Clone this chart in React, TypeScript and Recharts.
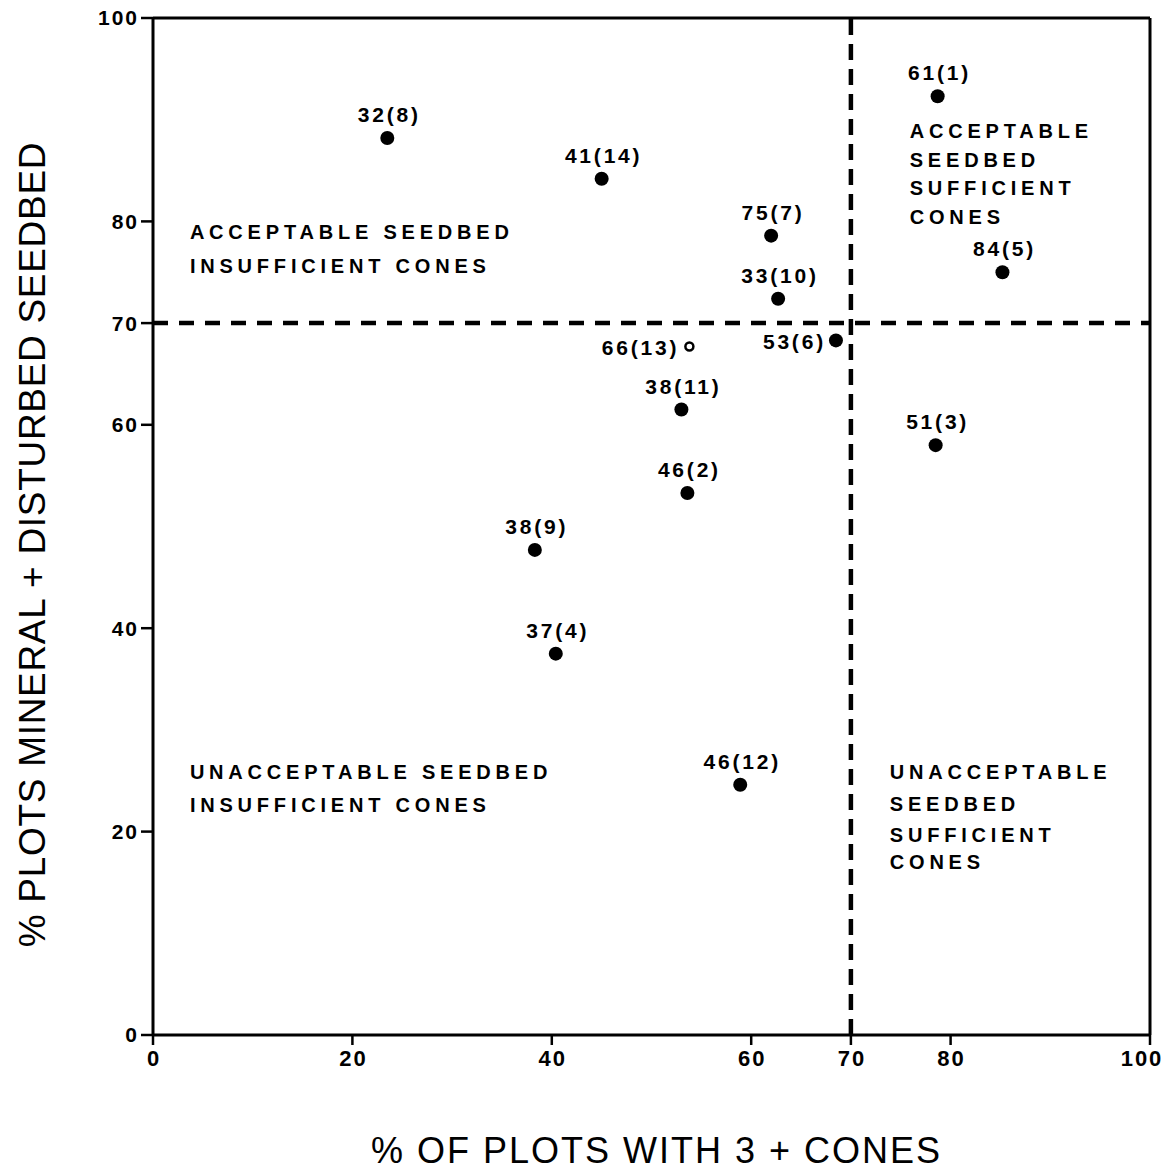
import React from "react";
import {
  ScatterChart,
  Scatter,
  XAxis,
  YAxis,
  ReferenceLine,
  ReferenceDot,
} from "recharts";

// stand labels, % plots with 3+ cones, % plots mineral + disturbed seedbed
const STANDS = [
  "32(8)", "41(14)", "75(7)", "33(10)", "61(1)", "84(5)", "66(13)",
  "53(6)", "38(11)", "51(3)", "46(2)", "38(9)", "37(4)", "46(12)",
];
const CONES = [23.5, 45.0, 62.0, 62.7, 78.7, 85.2, 53.8, 68.5, 53.0, 78.5, 53.6, 38.3, 40.4, 58.9];
const SEEDBED = [88.2, 84.2, 78.6, 72.4, 92.3, 75.0, 67.7, 68.3, 61.5, 58.0, 53.3, 47.7, 37.5, 24.6];

const X_TICKS = [0, 20, 40, 60, 70, 80, 100];
const Y_TICKS = [0, 20, 40, 60, 70, 80, 100];
const THRESHOLD_CONES = 70;
const THRESHOLD_SEEDBED = 70;

const OPEN_POINTS = ["66(13)"];
const LEFT_LABELS = ["66(13)", "53(6)"];

// quadrant notes, one entry per text line (start x, baseline y in data units)
const NOTE_TEXT = [
  "ACCEPTABLE SEEDBED", "INSUFFICIENT CONES",
  "ACCEPTABLE", "SEEDBED", "SUFFICIENT", "CONES",
  "UNACCEPTABLE SEEDBED", "INSUFFICIENT CONES",
  "UNACCEPTABLE", "SEEDBED", "SUFFICIENT", "CONES",
];
const NOTE_X = [3.7, 3.7, 75.9, 75.9, 75.9, 75.9, 3.7, 3.7, 73.9, 73.9, 73.9, 73.9];
const NOTE_Y = [78.3, 74.9, 88.2, 85.3, 82.6, 79.7, 25.2, 21.9, 25.2, 22.0, 19.0, 16.3];

const FONT = '"Liberation Sans", Arial, Helvetica, sans-serif';

const data = STANDS.map((name, i) => ({ name, x: CONES[i], y: SEEDBED[i] }));

function PointMark(props: any) {
  const { cx, cy, payload } = props;
  if (cx == null || cy == null || !payload) return <g />;
  const open = OPEN_POINTS.includes(payload.name);
  const left = LEFT_LABELS.includes(payload.name);
  return (
    <g>
      {open ? (
        <circle cx={cx} cy={cy} r={4} fill="#fff" stroke="#000" strokeWidth={2.5} />
      ) : (
        <circle cx={cx} cy={cy} r={7} fill="#000" />
      )}
      <text
        x={left ? cx - 10 : cx + 2}
        y={left ? cy + 9 : cy - 16}
        textAnchor={left ? "end" : "middle"}
        fontFamily={FONT}
        fontWeight="bold"
        fontSize={21}
        letterSpacing={2.8}
        fill="#000"
      >
        {payload.name}
      </text>
    </g>
  );
}

function XTick(props: any) {
  const { x, y, payload } = props;
  const last = payload.value === X_TICKS[X_TICKS.length - 1];
  return (
    <text
      x={last ? x - 8 : x + 1}
      y={y + 19}
      textAnchor="middle"
      fontFamily={FONT}
      fontWeight="bold"
      fontSize={22}
      letterSpacing={2}
      fill="#000"
    >
      {payload.value}
    </text>
  );
}

export default function App() {
  return (
    <div style={{ position: "absolute", left: 0, top: 0, background: "#fff" }}>
      <ScatterChart
        width={1169}
        height={1172}
        margin={{ top: 18, right: 19, bottom: 0, left: 0 }}
      >
        <XAxis
          type="number"
          dataKey="x"
          domain={[0, 100]}
          ticks={X_TICKS}
          height={137}
          axisLine={{ stroke: "#000", strokeWidth: 3 }}
          tickLine={{ stroke: "#000", strokeWidth: 2.5 }}
          tickSize={10}
          tick={<XTick />}
          label={{
            content: (p: any) => {
              const vb = p.viewBox || {};
              return (
                <text
                  x={vb.x + vb.width / 2 + 5}
                  y={vb.y + vb.height - 9}
                  textAnchor="middle"
                  fontFamily={FONT}
                  fontSize={36}
                  letterSpacing={2}
                  fill="#000"
                >
                  % OF PLOTS WITH 3 + CONES
                </text>
              );
            },
          }}
        />
        <YAxis
          type="number"
          dataKey="y"
          domain={[0, 100]}
          ticks={Y_TICKS}
          width={153}
          axisLine={{ stroke: "#000", strokeWidth: 3 }}
          tickLine={{ stroke: "#000", strokeWidth: 2.5 }}
          tickSize={12}
          tick={{ fill: "#000", fontSize: 21, fontWeight: "bold", fontFamily: FONT, letterSpacing: 2 }}
          label={{
            content: (p: any) => {
              const vb = p.viewBox || {};
              const cx = vb.x + 45;
              const cy = vb.y + vb.height / 2 + 18;
              return (
                <text
                  transform={`translate(${cx},${cy}) rotate(-90)`}
                  textAnchor="middle"
                  fontFamily={FONT}
                  fontSize={37}
                  letterSpacing={0.7}
                  fill="#000"
                >
                  % PLOTS MINERAL + DISTURBED SEEDBED
                </text>
              );
            },
          }}
        />
        <ReferenceLine y={100} stroke="#000" strokeWidth={3} />
        <ReferenceLine x={100} stroke="#000" strokeWidth={3} />
        <ReferenceLine
          y={THRESHOLD_SEEDBED}
          stroke="#000"
          strokeWidth={4.5}
          strokeDasharray="15 11"
        />
        <ReferenceLine
          x={THRESHOLD_CONES}
          stroke="#000"
          strokeWidth={4.5}
          strokeDasharray="16 9"
        />
        {NOTE_TEXT.map((t, i) => (
          <ReferenceDot
            key={i}
            x={NOTE_X[i]}
            y={NOTE_Y[i]}
            r={0}
            shape={(p: any) => (
              <text
                x={p.cx}
                y={p.cy}
                fontFamily={FONT}
                fontWeight="bold"
                fontSize={20}
                letterSpacing={4.8}
                fill="#000"
              >
                {t}
              </text>
            )}
          />
        ))}
        <Scatter data={data} shape={PointMark} isAnimationActive={false} />
      </ScatterChart>
    </div>
  );
}
